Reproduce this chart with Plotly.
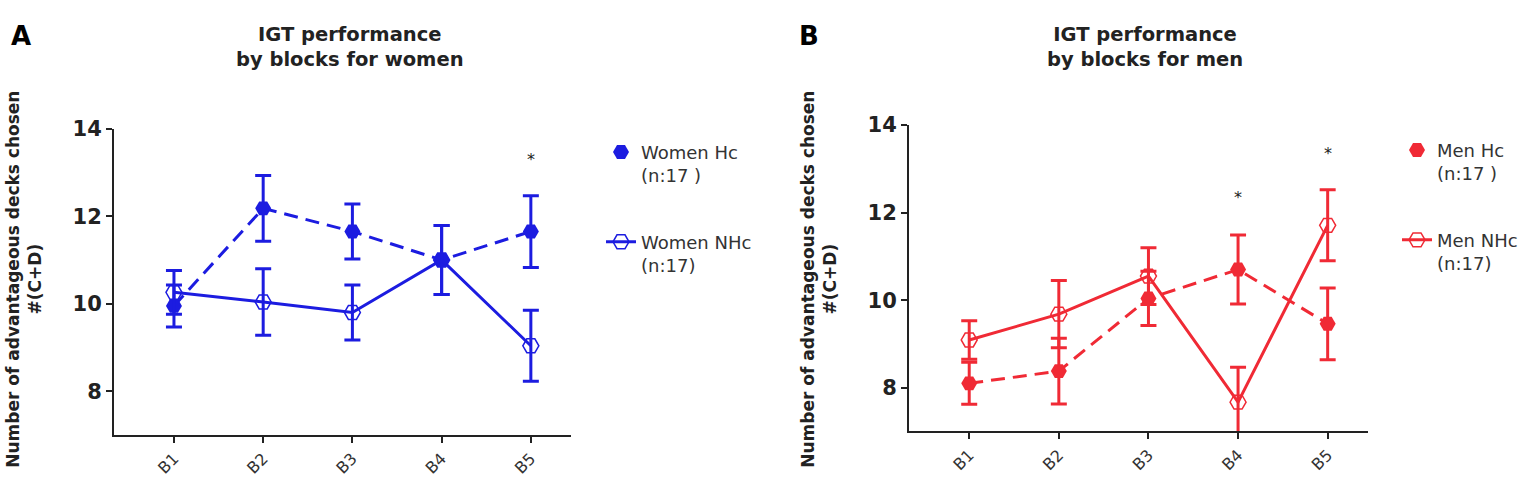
import plotly.graph_objects as go

FONT = "DejaVu Sans"
W, H = 1535, 478

blocks = ["B1", "B2", "B3", "B4", "B5"]

# women (panel A)
women_hc = [9.95, 12.18, 11.65, 11.0, 11.65]
women_hc_sem = [0.48, 0.75, 0.63, 0.79, 0.82]
women_nhc = [10.26, 10.04, 9.80, 11.0, 9.04]
women_nhc_sem = [0.50, 0.76, 0.63, 0.79, 0.81]
women_star_x = ["B5"]
women_star_y = [13.15]

# men (panel B)
men_hc = [8.10, 8.38, 10.04, 10.70, 9.46]
men_hc_sem = [0.48, 0.75, 0.62, 0.79, 0.82]
men_nhc = [9.09, 9.68, 10.55, 7.67, 11.71]
men_nhc_sem = [0.44, 0.77, 0.65, 0.80, 0.81]
men_star_x = ["B4", "B5"]
men_star_y = [12.2, 13.22]

BLUE = "#1c1ce0"
RED = "#f02a35"


def add_panel(fig, hc, hc_sem, nhc, nhc_sem, color, label, xa, ya, legend):
    # dashed line for the Hc group (kept out of the legend)
    fig.add_trace(go.Scatter(
        x=blocks, y=hc, mode="lines", xaxis=xa, yaxis=ya,
        line=dict(color=color, width=3, dash="14px,8px"),
        showlegend=False, hoverinfo="skip",
    ))
    fig.add_trace(go.Scatter(
        x=blocks, y=hc, mode="markers", xaxis=xa, yaxis=ya,
        name=f"{label} Hc<br>(n:17 )", legend=legend, legendgroup=label + "hc",
        marker=dict(symbol="hexagon2", size=16, color=color),
        error_y=dict(type="data", array=hc_sem, color=color, thickness=3, width=8),
    ))
    fig.add_trace(go.Scatter(
        x=blocks, y=nhc, mode="lines+markers", xaxis=xa, yaxis=ya,
        name=f"{label} NHc<br>(n:17)", legend=legend, legendgroup=label + "nhc",
        line=dict(color=color, width=3),
        marker=dict(symbol="hexagon2-open", size=16, color=color, line=dict(width=1.5)),
        error_y=dict(type="data", array=nhc_sem, color=color, thickness=3, width=8),
    ))


fig = go.Figure()
add_panel(fig, women_hc, women_hc_sem, women_nhc, women_nhc_sem, BLUE, "Women", "x", "y", "legend")
add_panel(fig, men_hc, men_hc_sem, men_nhc, men_nhc_sem, RED, "Men", "x2", "y2", "legend2")

xaxis_style = dict(
    type="category", categoryorder="array", categoryarray=blocks,
    range=[-0.672, 4.45], showline=True, linecolor="#222", linewidth=2,
    ticks="outside", ticklen=6, tickwidth=1.5, tickcolor="#222",
    tickangle=-45, tickfont=dict(family=FONT, size=16, color="#333"),
    showgrid=False, zeroline=False,
)
yaxis_style = dict(
    range=[7, 14], tickvals=[8, 10, 12, 14], showline=True, linecolor="#222",
    linewidth=2, ticks="outside", ticklen=6, tickwidth=1.5, tickcolor="#222",
    tickfont=dict(family=FONT, size=21, color="#222", weight="bold"),
    showgrid=False, zeroline=False,
)

legend_style = dict(
    font=dict(family=FONT, size=18, color="#333"), bgcolor="rgba(0,0,0,0)",
    valign="top", tracegroupgap=40, itemwidth=30, yanchor="top", xanchor="left",
)

annotations = []
for xa, ya, sx, sy in [("x", "y", women_star_x, women_star_y), ("x2", "y2", men_star_x, men_star_y)]:
    for bx, by in zip(sx, sy):
        annotations.append(dict(x=bx, y=by, xref=xa, yref=ya, text="*", showarrow=False,
                                yshift=6, font=dict(family=FONT, size=16, color="#222")))


def paper_note(x, y, text, size, color="#222", angle=0):
    return dict(x=x / W, y=1 - y / H, xref="paper", yref="paper", showarrow=False,
                xanchor="center", yanchor="middle", textangle=angle, text=text,
                font=dict(family=FONT, size=size, color=color))


ytitle = "<b>Number of advantageous decks chosen<br>#(C+D)</b>"
annotations += [
    paper_note(350, 36, "<b>IGT performance<br>by blocks for women</b>", 19.5),
    paper_note(1145, 36, "<b>IGT performance<br>by blocks for men</b>", 19.5),
    paper_note(21, 25, "<b>A</b>", 26, "#000"),
    paper_note(809, 25, "<b>B</b>", 26, "#000"),
    paper_note(24, 277, ytitle, 17, angle=-90),
    paper_note(819, 277, ytitle, 17, angle=-90),
]

fig.update_layout(
    width=W, height=H, autosize=False,
    margin=dict(l=0, r=0, t=0, b=0),
    paper_bgcolor="white", plot_bgcolor="white",
    xaxis=dict(domain=[114 / W, 571 / W], anchor="y", **xaxis_style),
    yaxis=dict(domain=[1 - 437.7 / H, 1 - 120.7 / H], anchor="x", **yaxis_style),
    xaxis2=dict(domain=[909 / W, 1368 / W], anchor="y2", **xaxis_style),
    yaxis2=dict(domain=[1 - 434 / H, 1 - 117 / H], anchor="x2", **yaxis_style),
    legend=dict(x=601 / W, y=1 - 126 / H, **legend_style),
    legend2=dict(x=1397 / W, y=1 - 124 / H, **legend_style),
    annotations=annotations,
    showlegend=True,
)

# the page body has a default 8px margin; remove it so the figure fills the window
fig.write_html("out.html", config={"displayModeBar": False},
               post_script="document.body.style.margin='0';")
